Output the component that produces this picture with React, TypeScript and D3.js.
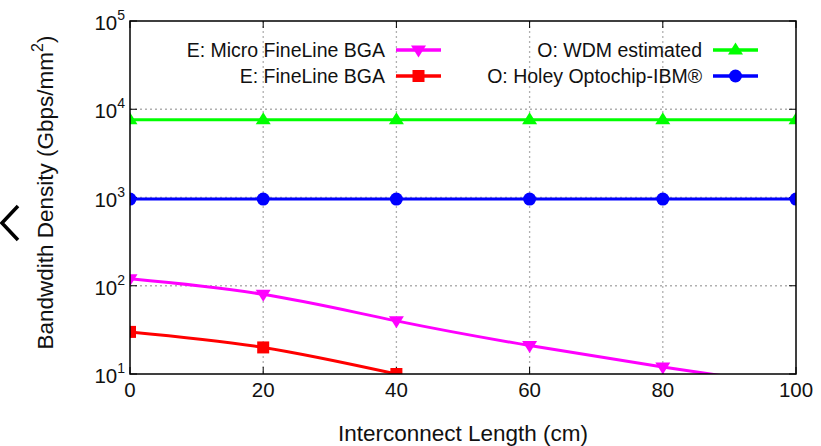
import React from "react";
import * as d3 from "d3";

// interconnect length (cm)
const lengths = [0, 20, 40, 60, 80, 100];
const microFineLine = [120, 80, 40, 21, 12, 7.2];
const fineLine = [30, 20, 10];
const wdm = [7600, 7600, 7600, 7600, 7600, 7600];
const holey = [960, 960, 960, 960, 960, 960];

const xTicks = [0, 20, 40, 60, 80, 100];
const yTicks = [10, 100, 1000, 10000, 100000];

const series = [
  { name: "E: Micro FineLine BGA", color: "#ff00ff", marker: "tri-down", values: microFineLine },
  { name: "E: FineLine BGA", color: "#ff0000", marker: "square", values: fineLine },
  { name: "O: WDM estimated", color: "#00ff00", marker: "tri-up", values: wdm },
  { name: "O: Holey Optochip-IBM®", color: "#0000ff", marker: "circle", values: holey },
];

const W = 821;
const H = 446;
const m = { left: 130, right: 25, top: 21, bottom: 72 };

function Marker({ type, x, y, color }: { type: string; x: number; y: number; color: string }) {
  if (type === "circle") return <circle cx={x} cy={y} r={6.5} fill={color} />;
  if (type === "square") return <rect x={x - 6} y={y - 6} width={12} height={12} fill={color} />;
  const s = 7.5;
  if (type === "tri-up")
    return <path d={`M${x},${y - s}L${x + s},${y + s * 0.6}L${x - s},${y + s * 0.6}Z`} fill={color} />;
  return <path d={`M${x},${y + s}L${x + s},${y - s * 0.6}L${x - s},${y - s * 0.6}Z`} fill={color} />;
}

export default function App() {
  const x = d3.scaleLinear().domain([0, 100]).range([m.left, W - m.right]);
  const y = d3.scaleLog().domain([10, 100000]).range([H - m.bottom, m.top]);
  const x0 = x.range()[0], x1 = x.range()[1];
  const y0 = y.range()[0], y1 = y.range()[1];

  const line = d3
    .line<number>()
    .x((_, i) => x(lengths[i]))
    .y((d) => y(d))
    .curve(d3.curveNatural);

  const font = "Liberation Sans, Arial, sans-serif";

  const legendPos = [
    { tx: 385, sx: 396, ty: 50 },
    { tx: 385, sx: 396, ty: 76 },
    { tx: 702, sx: 713, ty: 50 },
    { tx: 702, sx: 713, ty: 76 },
  ];

  return (
    <svg width={W} height={H} style={{ position: "absolute", left: 0, top: 0, background: "#fff" }} fontFamily={font}>
      <defs>
        <clipPath id="plot">
          <rect x={x0} y={y1} width={x1 - x0} height={y0 - y1} />
        </clipPath>
      </defs>
      {/* stray chevron */}
      <path d="M18,206L2,223L18,240" fill="none" stroke="#000" strokeWidth={3.5} />

      {/* grid */}
      {xTicks.slice(1, -1).map((t) => (
        <line key={"gx" + t} x1={x(t)} x2={x(t)} y1={y1} y2={y0} stroke="#b0b0b0" strokeWidth={1.3} strokeDasharray="2,3" />
      ))}
      {yTicks.slice(1, -1).map((t) => (
        <line key={"gy" + t} x1={x0} x2={x1} y1={y(t)} y2={y(t)} stroke="#b0b0b0" strokeWidth={1.3} strokeDasharray="2,3" />
      ))}

      {/* ticks */}
      {xTicks.map((t) => (
        <g key={"tx" + t}>
          <line x1={x(t)} x2={x(t)} y1={y0} y2={y0 - 7} stroke="#000" />
          <line x1={x(t)} x2={x(t)} y1={y1} y2={y1 + 7} stroke="#000" />
          <text x={x(t)} y={y0 + 23} fontSize={20.5} textAnchor="middle" fill="#111">{t}</text>
        </g>
      ))}
      {yTicks.map((t) => (
        <g key={"ty" + t}>
          <line x1={x0} x2={x0 + 7} y1={y(t)} y2={y(t)} stroke="#000" />
          <line x1={x1} x2={x1 - 7} y1={y(t)} y2={y(t)} stroke="#000" />
          <text x={x0 - 5} y={y(t) + 9} fontSize={20.5} textAnchor="end" fill="#111">
            10<tspan fontSize={14} dy={-10}>{Math.round(Math.log10(t))}</tspan>
          </text>
        </g>
      ))}

      {/* series */}
      <g clipPath="url(#plot)">
        {series.map((s) => (
          <path key={s.name} d={line(s.values) || ""} fill="none" stroke={s.color} strokeWidth={3} />
        ))}
        {series.map((s) =>
          s.values.map((v, i) => (
            <Marker key={s.name + i} type={s.marker} x={x(lengths[i])} y={y(v)} color={s.color} />
          ))
        )}
      </g>

      {/* frame */}
      <rect x={x0} y={y1} width={x1 - x0} height={y0 - y1} fill="none" stroke="#000" strokeWidth={1.5} />

      {/* legend */}
      {series.map((s, i) => {
        const p = legendPos[i];
        return (
          <g key={"lg" + s.name}>
            <text x={p.tx} y={p.ty + 7} fontSize={19.5} textAnchor="end" fill="#111">{s.name}</text>
            <line x1={p.sx} x2={p.sx + 45} y1={p.ty} y2={p.ty} stroke={s.color} strokeWidth={3.5} />
            <Marker type={s.marker} x={p.sx + 22.5} y={p.ty} color={s.color} />
          </g>
        );
      })}

      {/* axis titles */}
      <text x={(x0 + x1) / 2} y={441} fontSize={22.5} textAnchor="middle" fill="#111">Interconnect Length (cm)</text>
      <text transform={`translate(53,${(y0 + y1) / 2 - 5}) rotate(-90)`} fontSize={22.5} textAnchor="middle" fill="#111">
        Bandwdith Density (Gbps/mm<tspan fontSize={16} dy={-10}>2</tspan><tspan dy={10}>)</tspan>
      </text>
    </svg>
  );
}
